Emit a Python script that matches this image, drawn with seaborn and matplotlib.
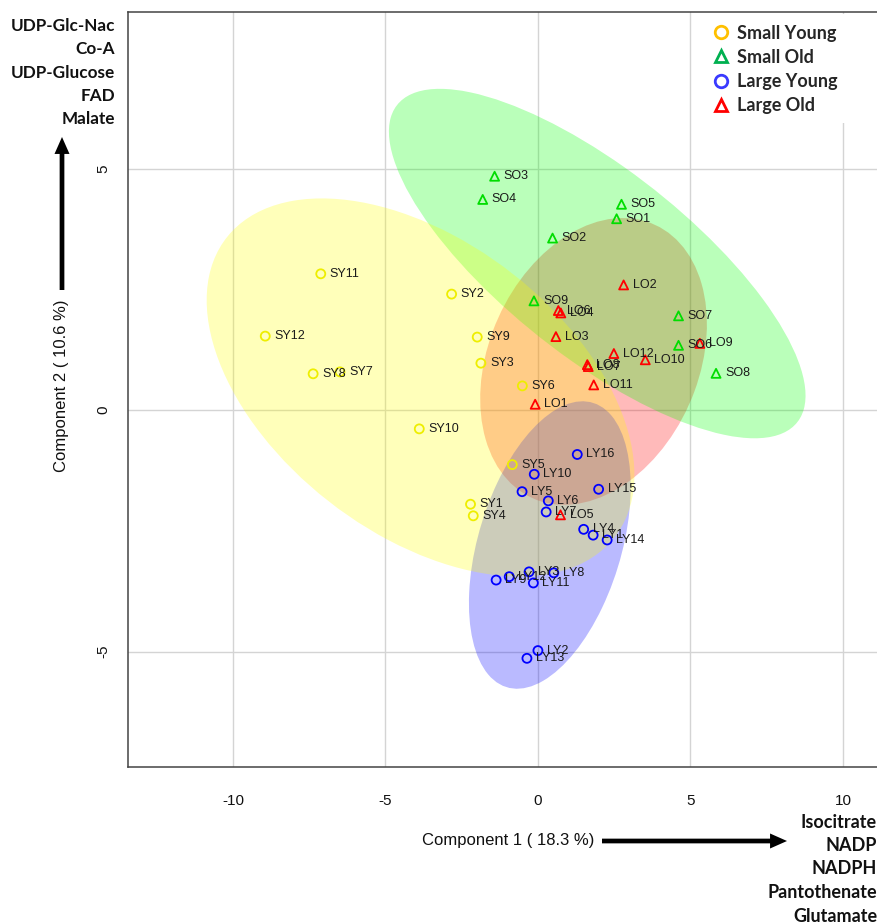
import numpy as np
import pandas as pd
import matplotlib
matplotlib.use("Agg")
import matplotlib.pyplot as plt
import seaborn as sns
from matplotlib.patches import Ellipse, Rectangle, FancyArrowPatch, ArrowStyle
from matplotlib.lines import Line2D

# ---- sample scores on components 1 and 2 ----
sy_names = ["SY1", "SY2", "SY3", "SY4", "SY5", "SY6", "SY7", "SY8", "SY9", "SY10", "SY11", "SY12"]
sy_pc1 = [-2.21, -2.83, -1.87, -2.12, -0.84, -0.51, -6.49, -7.37, -1.99, -3.89, -7.12, -8.94]
sy_pc2 = [-1.95, 2.40, 0.97, -2.19, -1.13, 0.50, 0.79, 0.75, 1.51, -0.39, 2.82, 1.53]

so_names = ["SO1", "SO2", "SO3", "SO4", "SO5", "SO6", "SO7", "SO8", "SO9"]
so_pc1 = [2.58, 0.48, -1.42, -1.81, 2.74, 4.61, 4.61, 5.84, -0.13]
so_pc2 = [3.96, 3.56, 4.84, 4.36, 4.26, 1.34, 1.95, 0.76, 2.26]

ly_names = ["LY1", "LY2", "LY3", "LY4", "LY5", "LY6", "LY7", "LY8",
            "LY9", "LY10", "LY11", "LY12", "LY13", "LY14", "LY15", "LY16"]
ly_pc1 = [1.81, 0.00, -0.29, 1.50, -0.52, 0.34, 0.27, 0.52,
          -1.37, -0.12, -0.15, -0.94, -0.36, 2.27, 1.99, 1.29]
ly_pc2 = [-2.59, -4.98, -3.35, -2.47, -1.69, -1.88, -2.11, -3.37,
          -3.52, -1.33, -3.58, -3.45, -5.14, -2.69, -1.64, -0.92]

lo_names = ["LO1", "LO2", "LO3", "LO4", "LO5", "LO6", "LO7", "LO8", "LO9", "LO10", "LO11", "LO12"]
lo_pc1 = [-0.09, 2.81, 0.59, 0.75, 0.74, 0.67, 1.65, 1.62, 5.31, 3.52, 1.83, 2.49]
lo_pc2 = [0.12, 2.59, 1.52, 2.01, -2.17, 2.06, 0.90, 0.94, 1.38, 1.04, 0.52, 1.17]

groups = ["Small Young", "Small Old", "Large Young", "Large Old"]
point_colors = {"Small Young": "#EEEE00", "Small Old": "#00DD00",
                "Large Young": "#0000FF", "Large Old": "#FF0000"}
fill_colors = {"Small Young": "#FFFF00", "Small Old": "#00FF00",
               "Large Young": "#0000FF", "Large Old": "#FF0000"}
legend_colors = {"Small Young": "#FFC000", "Small Old": "#00B050",
                 "Large Young": "#3A3AFF", "Large Old": "#FF0000"}
group_markers = {"Small Young": "o", "Small Old": "^", "Large Young": "o", "Large Old": "^"}

x_ticks = [-10, -5, 0, 5, 10]
y_ticks = [-5, 0, 5]
x_title = "Component 1 ( 18.3 %)"
y_title = "Component 2 ( 10.6 %)"
y_loadings = ["UDP-Glc-Nac", "Co-A", "UDP-Glucose", "FAD", "Malate"]
x_loadings = ["Isocitrate", "NADP", "NADPH", "Pantothenate", "Glutamate"]

frames = []
for g, names, pc1, pc2 in [("Small Young", sy_names, sy_pc1, sy_pc2),
                           ("Small Old", so_names, so_pc1, so_pc2),
                           ("Large Young", ly_names, ly_pc1, ly_pc2),
                           ("Large Old", lo_names, lo_pc1, lo_pc2)]:
    frames.append(pd.DataFrame({"sample": names, "pc1": pc1, "pc2": pc2, "group": g}))
df = pd.concat(frames, ignore_index=True)

sns.set_theme(style="white")
plt.rcParams["font.family"] = ["Liberation Sans", "DejaVu Sans"]
plt.rcParams["axes.unicode_minus"] = False
BOLD = ["Lato", "DejaVu Sans"]

W, H = 877, 924
fig = plt.figure(figsize=(W / 100, H / 100), dpi=100)
ax = fig.add_axes([128 / W, (H - 767) / H, (890 - 128) / W, (767 - 12) / H])
ax.set_xlim(-13.44, -13.44 + (890 - 128) / 30.5)
ax.set_ylim(-7.39, 8.24)

# grid
ax.set_xticks(x_ticks)
ax.set_yticks(y_ticks)
ax.grid(True, color="#d4d4d4", lw=1.0, zorder=0)
ax.set_axisbelow(True)

# 95% confidence ellipses from each group's covariance
CHI2_95_2DF = 5.991464547107979
for g in ["Large Old", "Large Young", "Small Old", "Small Young"]:
    sub = df[df["group"] == g]
    cov = np.cov(sub["pc1"], sub["pc2"])
    vals, vecs = np.linalg.eigh(cov)
    order = vals.argsort()[::-1]
    vals, vecs = vals[order], vecs[:, order]
    angle = np.degrees(np.arctan2(vecs[1, 0], vecs[0, 0]))
    w, h = 2 * np.sqrt(CHI2_95_2DF * vals)
    ax.add_patch(Ellipse((sub["pc1"].mean(), sub["pc2"].mean()), w, h, angle=angle,
                         facecolor=fill_colors[g], alpha=0.27, edgecolor="none", zorder=1))

# hollow sample markers
sns.scatterplot(data=df, x="pc1", y="pc2", hue="group", style="group",
                palette=point_colors, markers=group_markers, hue_order=groups,
                style_order=groups, s=42, legend=False, ax=ax, zorder=3)
coll = ax.collections[-1]
coll.set_edgecolors(coll.get_facecolors())
coll.set_facecolors("none")
coll.set_linewidths(1.3)

for _, r in df.iterrows():
    ax.annotate(r["sample"], (r["pc1"], r["pc2"]), xytext=(6.5, 0),
                textcoords="offset points", ha="left", va="center",
                fontsize=9, color="#1a1a1a", zorder=4)

ax.set_xlabel("")
ax.set_ylabel("")
for side in ["left", "bottom", "top"]:
    ax.spines[side].set_color("#444444")
    ax.spines[side].set_linewidth(1.1)
ax.spines["right"].set_visible(False)
ax.tick_params(axis="both", which="major", direction="out", length=5.5, width=1,
               color="#444444", labelsize=11, labelcolor="#111111")
ax.tick_params(axis="x", pad=14)
ax.tick_params(axis="y", pad=7, labelrotation=90)
for lab in ax.get_yticklabels():
    lab.set_va("center")

# axis titles and loading arrows
fig.text(594 / W, 1 - 841 / H, x_title, ha="right", va="center", fontsize=12, color="#111111")
fig.text(62 / W, 1 - 300 / H, y_title, rotation=90, ha="center", va="top", fontsize=12,
         color="#111111")

arrow_style = ArrowStyle.Simple(head_length=12.2, head_width=10.8, tail_width=3.4)
fig.add_artist(FancyArrowPatch((602 / W, 1 - 841 / H), (787 / W, 1 - 841 / H),
                               transform=fig.transFigure, arrowstyle=arrow_style,
                               mutation_scale=1, color="black", lw=0,
                               shrinkA=0, shrinkB=0))
fig.add_artist(FancyArrowPatch((62 / W, 1 - 290 / H), (62 / W, 1 - 137 / H),
                               transform=fig.transFigure, arrowstyle=arrow_style,
                               mutation_scale=1, color="black", lw=0,
                               shrinkA=0, shrinkB=0))

for i, s in enumerate(y_loadings):
    fig.text(115 / W, 1 - (26 + 23.3 * i) / H, s, ha="right", va="center",
             fontsize=12.3, fontweight="bold", family=BOLD, color="#111111")
for i, s in enumerate(x_loadings):
    fig.text(877 / W, 1 - (822 + 23.5 * i) / H, s, ha="right", va="center",
             fontsize=13, fontweight="bold", family=BOLD, color="#111111")

# legend panel
fig.add_artist(Rectangle((700 / W, 1 - 123 / H), (W - 700) / W, (123 - 14) / H,
                         transform=fig.transFigure, facecolor="white",
                         edgecolor="none", zorder=2))
handles = [Line2D([], [], ls="", marker=group_markers[g], ms=9, mew=2.0,
                  mfc="none", mec=legend_colors[g]) for g in groups]
fig.legend(handles, groups, loc="upper left",
           bbox_to_anchor=(712 / W, 1 - 24.5 / H), bbox_transform=fig.transFigure,
           frameon=False, borderpad=0, borderaxespad=0, handlelength=1.0,
           handletextpad=0.39, labelspacing=0.40,
           prop={"family": BOLD, "weight": "bold", "size": 13})

fig.savefig("out.png", dpi=100)
